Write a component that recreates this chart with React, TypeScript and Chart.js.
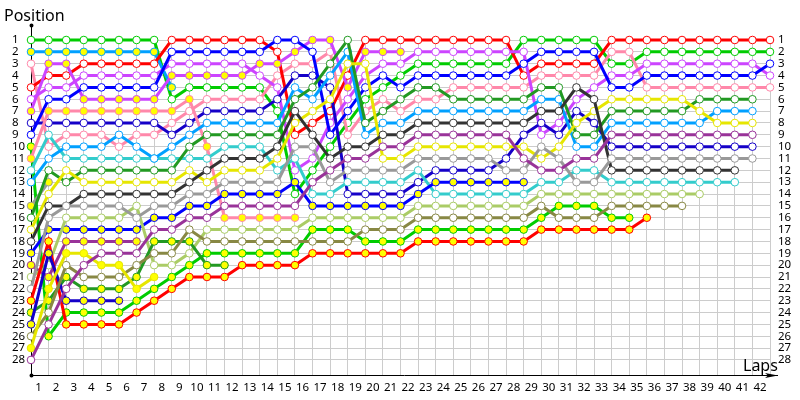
import React, { useEffect, useRef } from "react";
import { Chart, registerables } from "chart.js";

Chart.register(...registerables);

const laps = [0,1,2,3,4,5,6,7,8,9,10,11,12,13,14,15,16,17,18,19,20,21,22,23,24,25,26,27,28,29,30,31,32,33,34,35,36,37,38,39,40,41,42];
const lapTicks = laps.slice(1);
const positions = [1,2,3,4,5,6,7,8,9,10,11,12,13,14,15,16,17,18,19,20,21,22,23,24,25,26,27,28];

const green = [1,1,1,1,1,1,1,1,6,5,5,5,5,5,7,14,12,10,8,6,5,4,3,3,3,3,3,3,1,1,1,1,1,3,3,2,2,2,2,2,2,2,2];
const azureOut = [2,2,2,2,2,2,2,2,5];
const pink = [3,10,9,9,9,10,9,9,8,7,6,6,6,6,4,3,3,2,9,7,6,7,6,6,5,5,5,5,5,4,4,4,4,2,2,5,5,5,5,5,5,5,5];
const red = [5,4,4,3,3,3,3,3,1,1,1,1,1,1,2,9,8,7,4,1,1,1,1,1,1,1,1,1,4,3,3,3,3,1,1,1,1,1,1,1,1,1,1];
const violet = [6,5,5,4,4,4,4,4,3,3,3,3,3,4,5,12,11,8,6,4,3,3,2,2,2,2,2,2,2,9,8,6,5,4,4,3,3,3,3,3,3,3,4];
const violetOut = [7,3,3,6,6,6,6,6,4,4,4,4,4,3,3,2,1,1,5,2,2,2];
const navy = [8,8,8,8,8,8,8,8,9,8,7,7,7,7,6,4,4,5,14,14,14,14,13,12,12,12,12,11,9,8,9,7,8,10,10,10,10,10,10,10,10,10];
const blue = [9,6,6,5,5,5,5,5,2,2,2,2,2,2,1,1,2,9,7,5,4,5,4,4,4,4,4,4,3,2,2,2,2,5,5,4,4,4,4,4,4,4,3];
const greenOut = [10,26,24,24,24,24,23,22,21,20,19,19,19,19,19,19,17,17,17,18,18,18,17,17,17,17,17,17,17,16,15,15,15,16,16];
const pinkOut = [11,7,7,7,7,7,7,7,7,6,10,16,16,16,16,16];
const cyan = [12,9,11,11,11,11,11,11,11,11,11,10,10,10,12,11,14,14,13,13,13,13,12,14,14,14,14,14,14,13,13,12,12,13,13,13,13,13,13,13,13];
const azure = [13,11,10,10,10,9,10,11,10,9,8,8,8,8,8,5,6,4,2,9,8,8,7,7,7,7,7,7,7,6,6,10,10,8,8,8,8,8,8,7,7,7];
const greyOut = [15,13];
const forest = [16,12,13,12,12,12,12,12,12,10,9,9,9,9,9,6,5,3,1,8,7,6,5,5,6,6,6,6,6,5,5,9,9,7,7,7,7,7,6,6,6,6];
const yellow = [17,14,12,13,13,13,13,13,13,12,13,12,12,12,11,8,7,6,3,3,11,11,10,10,10,10,10,10,10,11,10,8,7,6,6,6,6,6,7,8,8,8];
const charcoal = [18,15,15,14,14,14,14,14,14,13,12,11,11,11,10,7,9,11,10,10,9,9,8,8,8,8,8,8,8,7,7,5,6,12,12,12,12,12,12,12,12];
const blueOut = [19,17,17,17,17,17,17,16,16,15,15,14,14,14,14,13,15,15,15,15,15,15,14,13,13,13,13,13,13];
const purpleOut = [20,21,18,18,18,18,18];
const sage = [21,20,16,16,16,16,15,20,20,19,17,17,17,17,17,17,16,16,16,16,16,16,15,15,15,15,15,15,15,14,14,14,14,14,14,14,14,14,14];
const grey = [22,16,15,15,15,15,16,15,15,14,14,13,13,13,13,10,10,13,12,12,12,12,11,11,11,11,11,12,12,10,11,13,13,11,11,11,11,11,11,11,11,11];
const redOut = [23,18,25,25,25,25,24,23,22,21,21,21,20,20,20,20,19,19,19,19,19,19,18,18,18,18,18,18,18,17,17,17,17,17,17,16];
const forestOut = [24,23,21,22,22,22,21,18,18,18,20,20];
const navyOut = [25,19,23,23,23,23];
const olive = [26,24,20,21,21,21,20,19,19,17,18,18,18,18,18,18,18,18,18,17,17,17,16,16,16,16,16,16,16,15,16,16,16,15,15,15,15,15];
const yellowOut = [27,22,19,19,20,20,22,21];
const purple = [28,25,22,20,19,19,19,17,17,16,16,15,15,15,15,15,13,12,11,11,10,10,9,9,9,9,9,9,11,12,12,11,11,9,9,9,9,9,9,9,9,9];

const YELLOW = "#ffff00";
const WHITE = "#ffffff";
const FONT = '"Noto Sans", sans-serif';

const series: [number[], string, string][] = [
  [green, "#00cc00", WHITE],
  [azureOut, "#00a0ff", YELLOW],
  [pink, "#ff88aa", WHITE],
  [red, "#ff0000", WHITE],
  [violet, "#cc44ff", WHITE],
  [violetOut, "#cc44ff", YELLOW],
  [navy, "#1500c8", WHITE],
  [blue, "#0000ff", WHITE],
  [greenOut, "#00cc00", YELLOW],
  [pinkOut, "#ff88aa", YELLOW],
  [cyan, "#33cccc", WHITE],
  [azure, "#00a0ff", WHITE],
  [greyOut, "#999999", YELLOW],
  [forest, "#229922", WHITE],
  [yellow, "#e6e600", WHITE],
  [charcoal, "#333333", WHITE],
  [blueOut, "#0000ff", YELLOW],
  [purpleOut, "#993399", YELLOW],
  [sage, "#aacc66", WHITE],
  [grey, "#999999", WHITE],
  [redOut, "#ff0000", YELLOW],
  [forestOut, "#229922", YELLOW],
  [navyOut, "#1500c8", YELLOW],
  [olive, "#888844", WHITE],
  [yellowOut, "#e6e600", YELLOW],
  [purple, "#993399", WHITE],
];

const axesPlugin = {
  id: "axesFrame",
  beforeDatasetsDraw(chart: any) {
    const { ctx, chartArea } = chart;
    const { left, bottom } = chartArea;
    ctx.save();
    ctx.strokeStyle = "#000000";
    ctx.fillStyle = "#000000";
    ctx.lineWidth = 1;
    ctx.beginPath();
    ctx.moveTo(left + 0.5, 25);
    ctx.lineTo(left + 0.5, bottom);
    ctx.moveTo(left, bottom + 0.5);
    ctx.lineTo(778, bottom + 0.5);
    ctx.stroke();
    ctx.beginPath();
    ctx.arc(left + 0.5, 25.5, 2, 0, Math.PI * 2);
    ctx.arc(left + 0.5, bottom + 0.5, 2, 0, Math.PI * 2);
    ctx.fill();
    ctx.beginPath();
    ctx.moveTo(778, bottom + 0.5);
    ctx.lineTo(765, bottom - 2);
    ctx.lineTo(768, bottom + 0.5);
    ctx.lineTo(765, bottom + 3);
    ctx.closePath();
    ctx.fill();
    ctx.restore();
  },
  afterDraw(chart: any) {
    const { ctx } = chart;
    ctx.save();
    ctx.fillStyle = "#000000";
    ctx.font = `16px ${FONT}`;
    ctx.textBaseline = "alphabetic";
    ctx.textAlign = "left";
    ctx.fillText("Position", 4, 21);
    ctx.fillText("Laps", 743, 371);
    ctx.restore();
  },
};

export default function App() {
  const ref = useRef<HTMLCanvasElement>(null);
  useEffect(() => {
    const tickFont = { family: FONT, size: 11.5 };
    const chart = new Chart(ref.current as HTMLCanvasElement, {
      type: "line",
      data: {
        labels: laps,
        datasets: series.map(([data, color, fill], i) => ({
          data,
          borderColor: color,
          backgroundColor: fill,
          pointBackgroundColor: fill,
          pointBorderColor: color,
          pointBorderWidth: 1,
          pointRadius: 3.8,
          borderWidth: 3,
          tension: 0,
          clip: false,
          order: -i,
          spanGaps: false,
          xAxisID: "x",
          yAxisID: "y",
        })),
      },
      plugins: [axesPlugin],
      options: {
        responsive: false,
        animation: false,
        events: [],
        layout: { padding: { left: 12, top: 40, right: 0, bottom: 0 } },
        plugins: { legend: { display: false }, tooltip: { enabled: false } },
        scales: {
          x: {
            type: "category",
            position: "bottom",
            offset: false,
            border: { display: false },
            grid: { color: "#cccccc", lineWidth: 1, drawTicks: false },
            ticks: { display: false, autoSkip: false },
            afterFit(s: any) { s.height = 0; },
          },
          xLabels: {
            type: "linear",
            position: "bottom",
            min: 0.57,
            max: 42.57,
            border: { display: false },
            grid: { display: false, drawTicks: false },
            afterBuildTicks(s: any) { s.ticks = lapTicks.map((value) => ({ value })); },
            ticks: { autoSkip: false, maxRotation: 0, color: "#000000", font: tickFont, padding: 6, callback: (v: any) => String(v) },
            afterFit(s: any) { s.height = 25; },
          },
          y: {
            type: "linear",
            position: "left",
            reverse: true,
            min: 1,
            max: 29.27,
            border: { display: false },
            grid: { color: "#cccccc", lineWidth: 1, drawTicks: false },
            afterBuildTicks(s: any) { s.ticks = positions.map((value) => ({ value })); },
            ticks: { autoSkip: false, crossAlign: "far", color: "#000000", font: tickFont, padding: 0, callback: (v: any) => String(v) },
            afterFit(s: any) { s.width = 19; },
          },
          yRight: {
            type: "linear",
            position: "right",
            reverse: true,
            min: 1,
            max: 29.27,
            border: { display: false },
            grid: { display: false, drawTicks: false },
            afterBuildTicks(s: any) { s.ticks = positions.map((value) => ({ value })); },
            ticks: { autoSkip: false, crossAlign: "near", color: "#000000", font: tickFont, padding: 8, callback: (v: any) => String(v) },
            afterFit(s: any) { s.width = 30; },
          },
        },
      },
    } as any);
    return () => chart.destroy();
  }, []);
  return <canvas ref={ref} width={800} height={400} style={{ position: "absolute", left: 0, top: 0, width: 800, height: 400 }} />;
}
